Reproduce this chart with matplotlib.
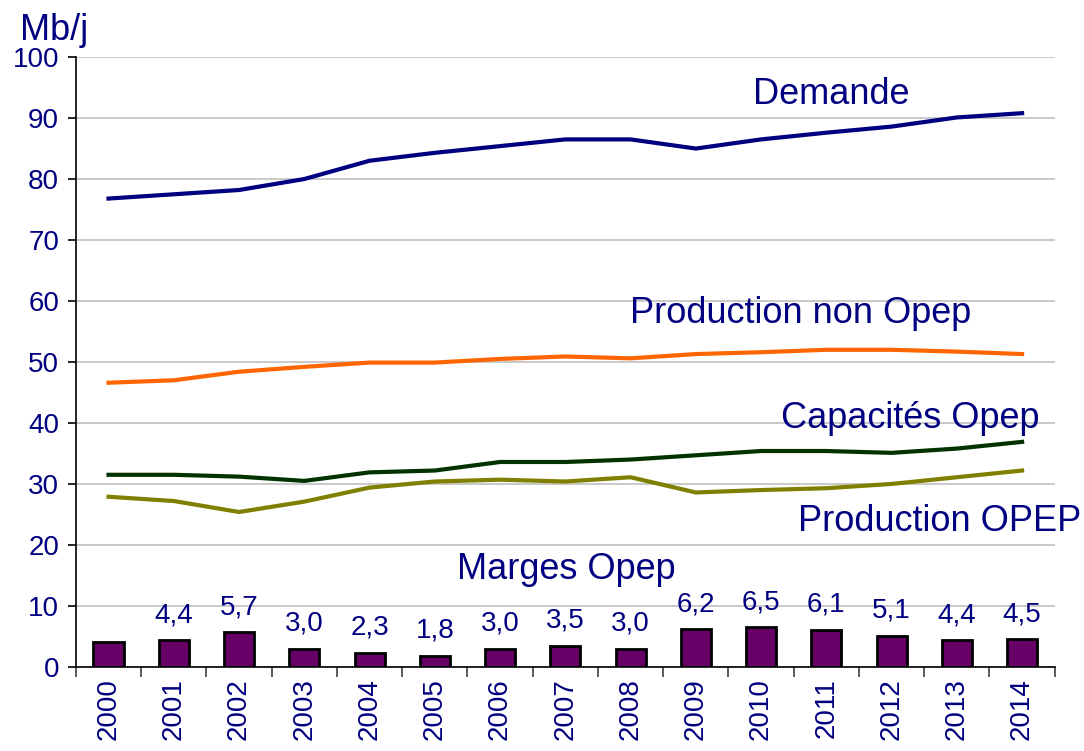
import matplotlib
matplotlib.use("Agg")
import matplotlib.pyplot as plt
import numpy as np

plt.rcParams['font.family'] = ['Liberation Sans', 'DejaVu Sans']

years = ["2000", "2001", "2002", "2003", "2004", "2005", "2006", "2007",
         "2008", "2009", "2010", "2011", "2012", "2013", "2014"]
demande = [76.8, 77.5, 78.2, 80.0, 83.0, 84.3, 85.4, 86.5, 86.5, 85.0, 86.5, 87.6, 88.6, 90.1, 90.8]
prod_non_opep = [46.6, 47.0, 48.4, 49.2, 49.9, 49.9, 50.5, 50.9, 50.6, 51.3, 51.6, 52.0, 52.0, 51.7, 51.3]
capacites_opep = [31.5, 31.5, 31.2, 30.5, 31.9, 32.2, 33.6, 33.6, 34.0, 34.7, 35.4, 35.4, 35.1, 35.8, 36.9]
prod_opep = [27.9, 27.2, 25.4, 27.1, 29.4, 30.4, 30.7, 30.4, 31.1, 28.6, 29.0, 29.3, 30.0, 31.1, 32.2]
marges = [4.0, 4.4, 5.7, 3.0, 2.3, 1.8, 3.0, 3.5, 3.0, 6.2, 6.5, 6.1, 5.1, 4.4, 4.5]
marges_labels = ["", "4,4", "5,7", "3,0", "2,3", "1,8", "3,0", "3,5", "3,0",
                 "6,2", "6,5", "6,1", "5,1", "4,4", "4,5"]

NAVY = "#000080"

fig = plt.figure(figsize=(10.84, 7.51), dpi=100)
ax = fig.add_axes([0.070, 0.112, 0.903, 0.812])

x = np.arange(len(years))

ax.bar(x, marges, width=0.46, color="#660066", edgecolor="black", linewidth=2, zorder=3)
for xi, v, lab in zip(x, marges, marges_labels):
    if lab:
        ax.annotate(lab, (xi, v), xytext=(0, 13), textcoords="offset points",
                    ha="center", va="baseline", fontsize=20, color=NAVY)

ax.plot(x, demande, color="#000080", lw=3, zorder=4, solid_joinstyle="miter")
ax.plot(x, prod_non_opep, color="#FF6600", lw=3, zorder=4)
ax.plot(x, capacites_opep, color="#003300", lw=3, zorder=4)
ax.plot(x, prod_opep, color="#808000", lw=3, zorder=4)

ax.text(11.08, 93.8, "Demande", ha="center", va="center", fontsize=26, color=NAVY)
ax.text(10.61, 58.0, "Production non Opep", ha="center", va="center", fontsize=26, color=NAVY)
ax.text(12.28, 40.8, "Capacités Opep", ha="center", va="center", fontsize=26, color=NAVY)
ax.text(12.74, 23.9, "Production OPEP", ha="center", va="center", fontsize=26, color=NAVY)
ax.text(7.02, 15.9, "Marges Opep", ha="center", va="center", fontsize=26, color=NAVY)
fig.text(0.0185, 0.960, "Mb/j", ha="left", va="center", fontsize=26, color=NAVY)

ax.set_xlim(-0.5, len(years) - 0.5)
ax.set_ylim(0, 100)
ax.set_yticks(np.arange(0, 101, 10))
ax.yaxis.grid(True, color="#C0C0C0", lw=1.2, zorder=0)
ax.set_axisbelow(True)

ax.set_xticks(x)
ax.set_xticklabels(years, rotation=90, fontsize=20, color=NAVY)
ax.set_xticks(np.arange(-0.5, len(years), 1.0), minor=True)
ax.tick_params(axis="x", which="major", length=0, pad=8)
ax.tick_params(axis="x", which="minor", length=7, width=1.2, color="#404040")
ax.tick_params(axis="y", length=6, width=1.2, labelsize=20, labelcolor=NAVY, pad=6)

for s in ["top", "right"]:
    ax.spines[s].set_visible(False)
ax.spines["left"].set_color("black")
ax.spines["left"].set_linewidth(1.2)
ax.spines["bottom"].set_color("black")
ax.spines["bottom"].set_linewidth(1.2)

fig.savefig("out.png", dpi=100)
